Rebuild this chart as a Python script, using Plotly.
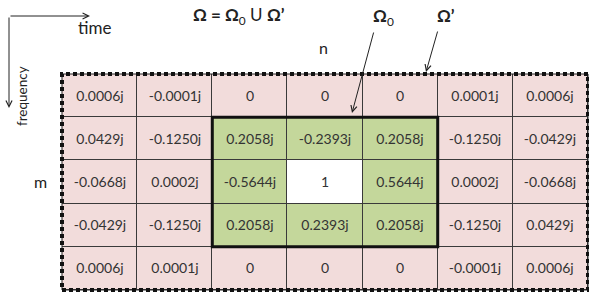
import plotly.graph_objects as go

# ---- data ----
n_labels = ["n-3", "n-2", "n-1", "n", "n+1", "n+2", "n+3"]
m_labels = ["m-2", "m-1", "m", "m+1", "m+2"]

row0 = ["0.0006j", "-0.0001j", "0", "0", "0", "0.0001j", "0.0006j"]
row1 = ["0.0429j", "-0.1250j", "0.2058j", "-0.2393j", "0.2058j", "-0.1250j", "-0.0429j"]
row2 = ["-0.0668j", "0.0002j", "-0.5644j", "1", "0.5644j", "0.0002j", "-0.0668j"]
row3 = ["-0.0429j", "-0.1250j", "0.2058j", "0.2393j", "0.2058j", "-0.1250j", "0.0429j"]
row4 = ["0.0006j", "0.0001j", "0", "0", "0", "-0.0001j", "0.0006j"]
cell_text = [row0, row1, row2, row3, row4]

# region: 0 = Omega' (pink), 1 = Omega_0 (green), 2 = centre (white)
region = [
    [0, 0, 0, 0, 0, 0, 0],
    [0, 0, 1, 1, 1, 0, 0],
    [0, 0, 1, 2, 1, 0, 0],
    [0, 0, 1, 1, 1, 0, 0],
    [0, 0, 0, 0, 0, 0, 0],
]

PINK = "#F2DCDB"
GREEN = "#C4D79B"
WHITE = "#FFFFFF"

W, H = 589, 298
L, R, T, B = 62, 1, 74, 8
pw, ph = W - L - R, H - T - B


def px(x):
    return (x - L) / pw


def py(y):
    return (H - B - y) / ph


fig = go.Figure(
    go.Heatmap(
        z=region,
        x=list(range(len(n_labels))),
        y=list(range(len(m_labels))),
        text=cell_text,
        texttemplate="%{text}",
        textfont=dict(family="Lato", size=14, color="#333333"),
        colorscale=[[0, PINK], [0.333, PINK], [0.333, GREEN], [0.667, GREEN],
                    [0.667, WHITE], [1, WHITE]],
        zmin=0, zmax=2,
        showscale=False,
        xgap=1, ygap=1,
        hoverinfo="skip",
    )
)

shapes = [
    # Omega_0 thick border
    dict(type="rect", xref="x", yref="y", x0=1.5, x1=4.5, y0=0.5, y1=3.5,
         line=dict(color="#111111", width=3), layer="above"),
    # Omega' dotted outer border
    dict(type="rect", xref="x domain", yref="y domain", x0=0, x1=1, y0=0, y1=1,
         line=dict(color="#222222", width=1), layer="above"),
    dict(type="rect", xref="x domain", yref="y domain", x0=0, x1=1, y0=0, y1=1,
         line=dict(color="#111111", width=4, dash="4px,3px"), layer="above"),
]


def label(x, y, text, size=16, angle=0):
    return dict(x=px(x), y=py(y), xref="paper", yref="paper", showarrow=False,
                xanchor="center", yanchor="middle", text=text, textangle=angle,
                font=dict(family="Lato", size=size, color="#222222"))


def arrow(hx, hy, tx, ty):
    return dict(x=px(hx), y=py(hy), xref="paper", yref="paper",
                ax=tx - hx, ay=ty - hy, showarrow=True, arrowhead=5,
                arrowsize=1.2, arrowwidth=1, arrowcolor="#222222", text="",
                standoff=0, startstandoff=0)


annotations = [
    label(239, 16, "<b>Ω = Ω</b><sub>0</sub> U <b>Ω’</b>", 17),
    label(383, 17, "<b>Ω</b><sub>0</sub>", 17),
    label(446, 16, "<b>Ω’</b>", 17),
    label(94, 27, "time", 17),
    label(323, 48, "n", 16),
    label(40, 181, "m", 16),
    label(22, 96, "frequency", 13.5, -90),
    # time / frequency axes arrows
    arrow(90, 16, 9, 16),
    arrow(9, 108, 9, 16),
    # pointer arrows
    arrow(352, 113, 374, 31),
    arrow(426, 72, 438, 30),
]

fig.update_layout(
    width=W, height=H,
    margin=dict(l=L, r=R, t=T, b=B, pad=0),
    paper_bgcolor="white",
    plot_bgcolor="#3a3a3a",
    shapes=shapes,
    annotations=annotations,
    showlegend=False,
)
fig.update_xaxes(range=[-0.5, 6.5], visible=False, showgrid=False, zeroline=False)
fig.update_yaxes(range=[4.5, -0.5], visible=False, showgrid=False, zeroline=False)

fig.write_html(
    "out.html",
    config={"displayModeBar": False},
    post_script="document.body.style.margin='0';document.body.style.padding='0';"
                "document.documentElement.style.overflow='hidden';",
)
